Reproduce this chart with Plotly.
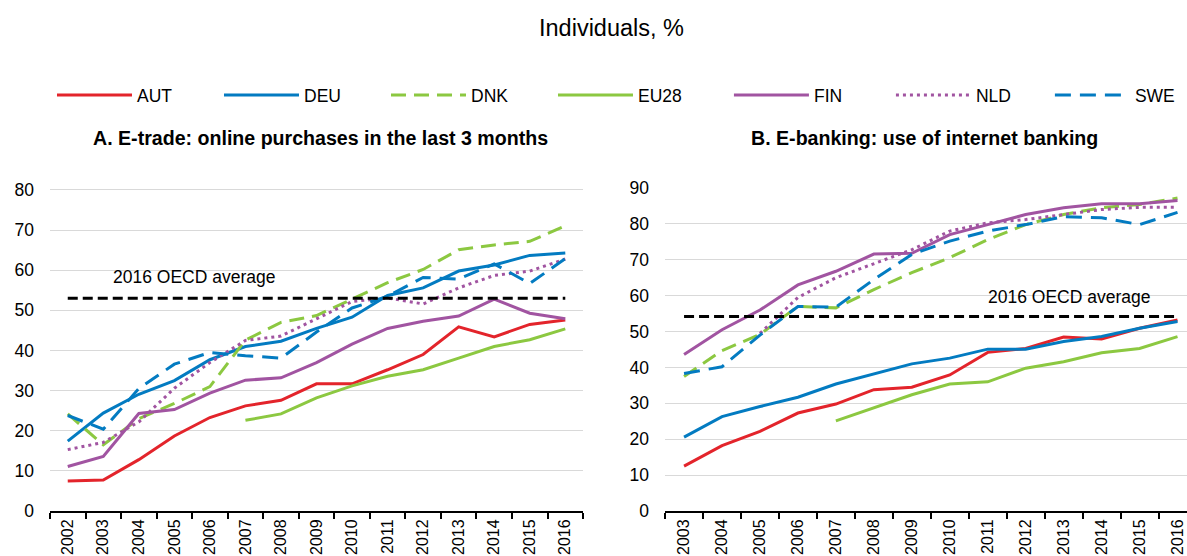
import plotly.graph_objects as go

# Panel A: e-trade, online purchases in the last 3 months (% of individuals)
years_a = [str(y) for y in range(2002, 2017)]
aut_a = [7.5, 7.7, 12.8, 18.7, 23.3, 26.2, 27.6, 31.7, 31.7, 35.2, 39.0, 45.9, 43.4, 46.5, 47.6]
deu_a = [17.4, 24.4, 29.1, 32.5, 37.7, 41.0, 42.3, 45.5, 48.3, 53.7, 55.6, 59.8, 61.3, 63.7, 64.3]
dnk_a = [24.2, 16.5, 23.0, 26.8, 31.0, 42.6, 47.0, 48.7, 52.8, 56.9, 60.2, 65.1, 66.3, 67.2, 71.1]
eu28_a = [None, None, None, None, None, 22.6, 24.2, 28.2, 31.2, 33.6, 35.2, 38.1, 41.0, 42.7, 45.4]
fin_a = [11.1, 13.6, 24.3, 25.3, 29.4, 32.6, 33.2, 37.0, 41.6, 45.5, 47.3, 48.6, 52.8, 49.3, 47.9]
nld_a = [15.3, 17.1, 22.2, 30.6, 37.0, 42.5, 43.6, 48.0, 52.2, 53.1, 51.6, 55.6, 58.7, 59.8, 62.8]
swe_a = [23.8, 20.4, 30.5, 36.6, 39.5, 38.7, 38.1, 44.6, 50.6, 53.5, 58.2, 57.8, 61.6, 56.7, 62.9]
oecd_a = 53.0

# Panel B: e-banking, use of internet banking (% of individuals)
years_b = [str(y) for y in range(2003, 2017)]
aut_b = [12.5, 18.2, 22.2, 27.3, 29.8, 33.8, 34.5, 37.9, 44.2, 45.3, 48.5, 47.9, 50.9, 53.2]
deu_b = [20.6, 26.3, 29.1, 31.7, 35.4, 38.2, 41.0, 42.6, 45.1, 45.1, 47.2, 48.6, 50.9, 52.8]
dnk_b = [37.5, 44.7, 49.2, 57.0, 56.6, 61.7, 66.4, 70.6, 75.6, 79.8, 82.6, 84.5, 85.4, 87.2]
eu28_b = [None, None, None, None, 25.1, 28.7, 32.4, 35.4, 36.0, 39.8, 41.6, 44.1, 45.3, 48.6]
fin_b = [43.6, 50.5, 56.0, 63.0, 66.8, 71.6, 71.8, 77.0, 79.8, 82.6, 84.5, 85.6, 85.6, 86.5]
nld_b = [None, None, 49.5, 59.5, 65.0, 69.0, 72.8, 78.0, 80.3, 81.2, 82.6, 84.0, 84.6, 84.6]
swe_b = [38.3, 40.2, 49.0, 57.0, 56.8, 64.5, 71.5, 75.2, 78.0, 79.8, 82.0, 81.7, 79.8, 83.2]
oecd_b = 54.2

RED = "#e3242b"
BLUE = "#037bc1"
GREEN = "#8cc841"
PURPLE = "#a154a1"
FONT = "Liberation Sans, Arial, sans-serif"

# name, panel A values, panel B values, colour, dash, legend box
series = [
    ("AUT", aut_a, aut_b, RED, "solid", "legend"),
    ("DEU", deu_a, deu_b, BLUE, "solid", "legend"),
    ("DNK", dnk_a, dnk_b, GREEN, "15px,8px", "legend"),
    ("EU28", eu28_a, eu28_b, GREEN, "solid", "legend"),
    ("FIN", fin_a, fin_b, PURPLE, "solid", "legend3"),
    ("NLD", nld_a, nld_b, PURPLE, "3px,4px", "legend3"),
    ("SWE", swe_a, swe_b, BLUE, "16px,9px", "legend2"),
]

fig = go.Figure()

for name, vals_a, vals_b, color, dash, leg in series:
    line = dict(color=color, width=3, dash=dash)
    fig.add_trace(go.Scatter(x=years_a, y=vals_a, name=name, mode="lines", line=line,
                             xaxis="x", yaxis="y", legendgroup=name, legend=leg))
    fig.add_trace(go.Scatter(x=years_b, y=vals_b, name=name, mode="lines", line=line,
                             xaxis="x2", yaxis="y2", legendgroup=name, showlegend=False))

# 2016 OECD average reference lines
fig.add_trace(go.Scatter(x=[years_a[0], years_a[-1]], y=[oecd_a, oecd_a], mode="lines",
                         line=dict(color="black", width=3, dash="10px,5px"),
                         xaxis="x", yaxis="y", showlegend=False, hoverinfo="skip"))
fig.add_trace(go.Scatter(x=[years_b[0], years_b[-1]], y=[oecd_b, oecd_b], mode="lines",
                         line=dict(color="black", width=3, dash="10px,5px"),
                         xaxis="x2", yaxis="y2", showlegend=False, hoverinfo="skip"))

xaxis_common = dict(
    type="category", automargin=False,
    showline=True, linecolor="black", linewidth=2,
    ticks="outside", ticklen=6, tickwidth=2, tickcolor="black",
    tickson="boundaries", tickangle=-90,
    showgrid=False, zeroline=False,
    tickfont=dict(family=FONT, size=16, color="black"),
)
yaxis_common = dict(
    automargin=False,
    showgrid=True, gridcolor="#d9d9d9", gridwidth=1.3,
    zeroline=False, showline=False, ticks="", dtick=10,
    tickfont=dict(family=FONT, size=17.5, color="black"),
    ticklabelstandoff=15,
)
legend_common = dict(
    orientation="h", y=0.829, xanchor="left", yanchor="middle",
    itemwidth=75,
    font=dict(family=FONT, size=17.5, color="black"),
    bgcolor="rgba(0,0,0,0)", traceorder="normal",
)

fig.update_layout(
    width=1187, height=556,
    margin=dict(l=0, r=0, t=0, b=0, autoexpand=False),
    paper_bgcolor="white", plot_bgcolor="white",
    font=dict(family=FONT, size=17.5, color="black"),
    xaxis=dict(xaxis_common, domain=[0.0421, 0.4912], range=[-0.5, 14.5], anchor="y"),
    yaxis=dict(yaxis_common, domain=[0.0809, 0.6619], range=[0, 80.5], anchor="x"),
    xaxis2=dict(xaxis_common, domain=[0.5603, 1.0], range=[-0.5, 13.25], anchor="y2"),
    yaxis2=dict(yaxis_common, domain=[0.0809, 0.6619], range=[0, 90], anchor="x2"),
    legend=dict(legend_common, x=0.0438, entrywidth=77, entrywidthmode="pixels"),
    legend3=dict(legend_common, x=0.6141, entrywidth=72, entrywidthmode="pixels"),
    legend2=dict(legend_common, x=0.8845),
    showlegend=True,
    annotations=[
        dict(text="Individuals, %", x=0.515, y=0.95, xref="paper", yref="paper",
             xanchor="center", yanchor="middle", showarrow=False, font=dict(size=23.5)),
        dict(text="<b>A. E-trade: online purchases in the last 3 months</b>", x=0.2704, y=0.752,
             xref="paper", yref="paper", xanchor="center", yanchor="middle",
             showarrow=False, font=dict(size=19.6)),
        dict(text="<b>B. E-banking: use of internet banking</b>", x=0.779, y=0.752,
             xref="paper", yref="paper", xanchor="center", yanchor="middle",
             showarrow=False, font=dict(size=19.6)),
        dict(text="2016 OECD average", x=3.55, y=58.4, xref="x", yref="y",
             xanchor="center", yanchor="middle", showarrow=False, font=dict(size=17.5)),
        dict(text="2016 OECD average", x=10.15, y=59.6, xref="x2", yref="y2",
             xanchor="center", yanchor="middle", showarrow=False, font=dict(size=17.5)),
    ],
)

# drop the default 8px body margin so the figure fills the window exactly
fig.write_html("out.html", config={"displayModeBar": False},
               post_script="document.body.style.margin='0';")
